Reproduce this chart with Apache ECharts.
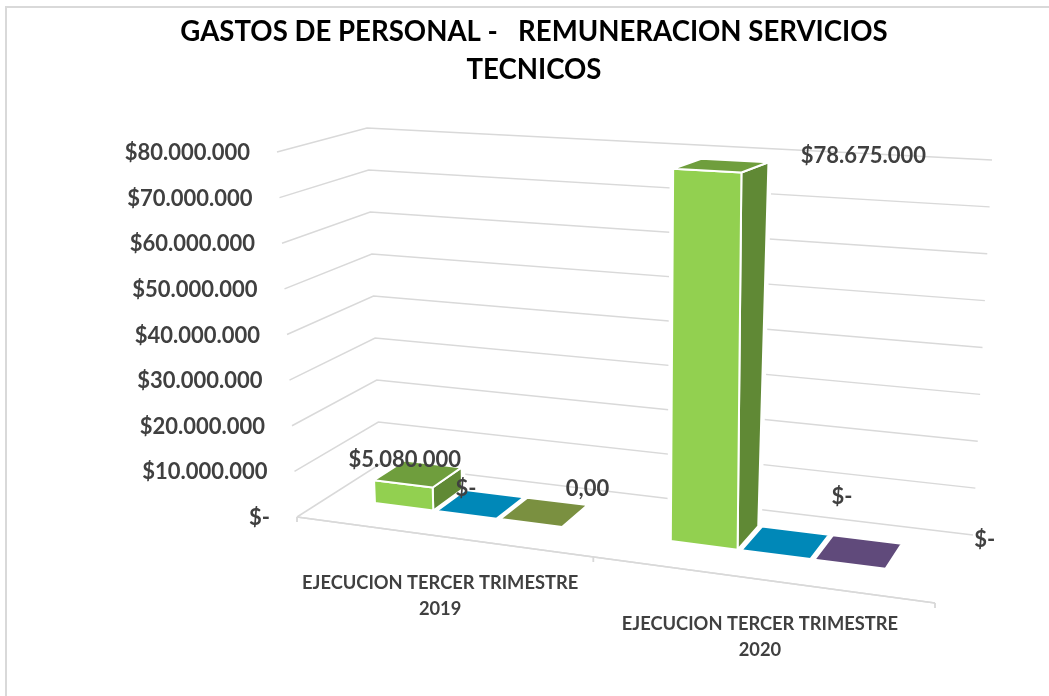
<!DOCTYPE html>
<html><head><meta charset="utf-8">
<style>html,body{margin:0;padding:0;background:#fff}#c{width:1049px;height:696px}</style>
<script src="https://cdn.jsdelivr.net/npm/echarts@6/dist/echarts.min.js"></script>
</head><body><div id="c"></div>
<script>
const categories = ['EJECUCION TERCER TRIMESTRE\n2019', 'EJECUCION TERCER TRIMESTRE\n2020'];
const tickValues = [0, 10000000, 20000000, 30000000, 40000000, 50000000, 60000000, 70000000, 80000000];
const tickLabels = ['$-', '$10.000.000', '$20.000.000', '$30.000.000', '$40.000.000', '$50.000.000', '$60.000.000', '$70.000.000', '$80.000.000'];
const seriesA = [5080000, 78675000];
const seriesB = [0, 0];
const seriesC = [0, 0];
const labelsA = ['$5.080.000', '$78.675.000'];
const labelsB = ['$-', '$-'];
const labelsC = ['0,00', '$-'];
const colorsA = ['#92D050', '#92D050'];
const colorsB = ['#0088B8', '#0088B8'];
const colorsC = ['#7A9040', '#604A7B'];

const FONT = 'Lato, "Noto Sans", sans-serif';
const FLOOR = [[297,517],[935,603],[973,535],[380,464]];
const TOP = [[277,152],[930,188],[992,160],[367,128]];
function homog(q){
  const [p0,p1,p2,p3]=q;
  const dx1=p1[0]-p2[0],dx2=p3[0]-p2[0],sx=p0[0]-p1[0]+p2[0]-p3[0];
  const dy1=p1[1]-p2[1],dy2=p3[1]-p2[1],sy=p0[1]-p1[1]+p2[1]-p3[1];
  const det=dx1*dy2-dx2*dy1;
  const g=(sx*dy2-dx2*sy)/det,h=(dx1*sy-sx*dy1)/det;
  const a=p1[0]-p0[0]+g*p1[0],b=p3[0]-p0[0]+h*p3[0],c=p0[0];
  const d=p1[1]-p0[1]+g*p1[1],e=p3[1]-p0[1]+h*p3[1],f=p0[1];
  return (u,v)=>{const w=1+g*u+h*v;return [(a*u+b*v+c)/w,(d*u+e*v+f)/w];};
}
const hF=homog(FLOOR),hT=homog(TOP);
function proj(u,v,t){const A=hF(u,v),B=hT(u,v);return [A[0]+(B[0]-A[0])*t,A[1]+(B[1]-A[1])*t];}
const GW=1000,GH=600;
function norm(api,cat,val){const c=api.coord([cat,val]);return [c[0]/GW,1-c[1]/GH];}

const V0=0.36,V1=0.74,BAR=0.104,GAP=0.006;
const STROKE='#ffffff';

function poly(pts,fill,lw){return {type:'polygon',shape:{points:pts},style:{fill:fill,stroke:STROKE,lineWidth:lw||2,lineJoin:'round'}};}
function shade(hex,f){const n=parseInt(hex.slice(1),16);const c=[n>>16,(n>>8)&255,n&255].map(x=>Math.round(x*f));return '#'+c.map(x=>x.toString(16).padStart(2,'0')).join('');}
function corners(api,serIdx){
  const n=norm(api,api.value(0),api.value(1));
  const u0=n[0]+(serIdx-1.5)*(BAR+GAP),u1=u0+BAR,t=n[1];
  return {a:proj(u0,V0,0),b:proj(u1,V0,0),c:proj(u1,V1,0),a2:proj(u0,V0,t),b2:proj(u1,V0,t),c2:proj(u1,V1,t),d2:proj(u0,V1,t)};
}
function barItem(serIdx,colors){
  return function(params,api){
    const k=corners(api,serIdx),col=colors[params.dataIndex],ch=[];
    if(api.value(1)>0){
      ch.push(poly([k.a,k.b,k.c,k.c2,k.d2,k.a2],'#ffffff',7));
      ch.push(poly([k.b,k.c,k.c2,k.b2],shade(col,0.66)));
      ch.push(poly([k.a,k.b,k.b2,k.a2],col));
      ch.push(poly([k.a2,k.b2,k.c2,k.d2],shade(col,0.76)));
    }else{
      ch.push(poly([k.a2,k.b2,k.c2,k.d2],col));
    }
    return {type:'group',children:ch};
  };
}
function labelItem(serIdx,labels,lOff){
  return function(params,api){
    const k=corners(api,serIdx),i=params.dataIndex,L=lOff[i];
    return {type:'text',style:{text:labels[i],x:k.c2[0]+L[0],y:k.c2[1]+L[1],fill:'#404040',font:'bold 22px '+FONT,align:'center',verticalAlign:'middle'}};
  };
}
const dataOf=v=>v.map((x,i)=>[i,x]);
function custom(renderItem,data,z){return {type:'custom',coordinateSystem:'cartesian2d',clip:false,z:z,data:data,renderItem:renderItem};}
const chart=echarts.init(document.getElementById('c'),null,{renderer:'canvas'});
chart.setOption({
  animation:false,
  backgroundColor:'#fff',
  graphic:[
    {type:'rect',shape:{x:6,y:7,width:1200,height:800},style:{fill:'none',stroke:'#d9d9d9',lineWidth:2},silent:true},
    {type:'text',style:{text:'GASTOS DE PERSONAL -   REMUNERACION SERVICIOS\nTECNICOS',x:534,y:13,align:'center',fill:'#000',font:'bold 27.6px '+FONT,lineHeight:38}}
  ],
  grid:{left:0,top:0,width:GW,height:GH,show:false},
  xAxis:{type:'category',data:categories,show:false,boundaryGap:true},
  yAxis:{type:'value',min:0,max:80000000,interval:10000000,show:false},
  series:[
    custom(function(params,api){
       const t=norm(api,0,api.value(1))[1],i=params.dataIndex;
       const pts=[proj(0,0,t),proj(0,1,t),proj(1,1,t)];
       const lab=proj(0,0,t);
       return {type:'group',children:[
         {type:'polyline',shape:{points:pts},style:{fill:'none',stroke:'#d9d9d9',lineWidth:1.5}},
         {type:'text',style:{text:tickLabels[i],x:lab[0]-27,y:lab[1]+1,align:'right',verticalAlign:'middle',fill:'#404040',font:'bold 22px '+FONT}}
       ]};
     },tickValues.map(v=>[0,v]),1),
    custom(function(params,api){
       const n=norm(api,api.value(0),0),i=params.dataIndex;
       const pts=[proj(0,0,0),proj(1,0,0)];
       const p=proj(n[0],0,0);
       const tick=u=>({type:'line',shape:{x1:proj(u,0,0)[0],y1:proj(u,0,0)[1],x2:proj(u,0,0)[0],y2:proj(u,0,0)[1]+5},style:{stroke:'#d9d9d9',lineWidth:1.5}});
       return {type:'group',children:[
         {type:'polyline',shape:{points:pts},style:{fill:'none',stroke:'#d9d9d9',lineWidth:1.5}},
         tick(0),tick(0.5),tick(1),
         {type:'text',style:{text:categories[i],x:p[0]+(i?2:0),y:p[1]+(i?32:34),align:'center',verticalAlign:'top',fill:'#404040',font:'bold 18.3px '+FONT,lineHeight:26}}
       ]};
     },[[0,0],[1,0]],1),
    custom(barItem(2,colorsC),dataOf(seriesC),3),
    custom(barItem(1,colorsB),dataOf(seriesB),4),
    custom(barItem(0,colorsA),dataOf(seriesA),2),
    custom(labelItem(0,labelsA,[[-57,-7],[95,-6]]),dataOf(seriesA),6),
    custom(labelItem(1,labelsB,[[-58,-8],[13,-38]]),dataOf(seriesB),6),
    custom(labelItem(2,labelsC,[[0,-16],[83,-4]]),dataOf(seriesC),6)
  ]
});
</script></body></html>
